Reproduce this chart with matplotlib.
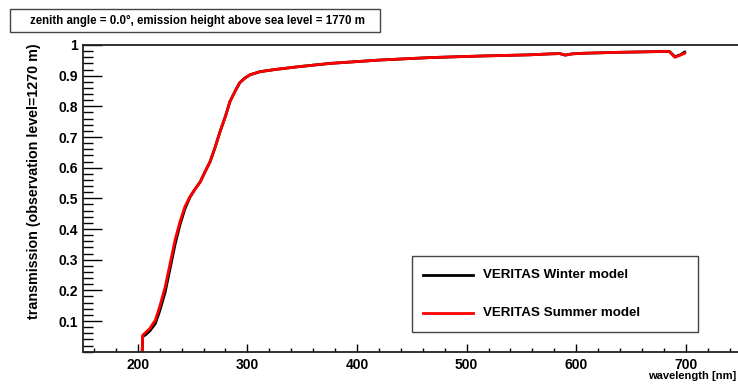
import matplotlib
matplotlib.use( "Agg" )
import matplotlib.pyplot as plt
from matplotlib.patches import Rectangle
from matplotlib.ticker import FixedLocator, MultipleLocator

# DATA
#=============================================================================================================================
wavelength = [ 204, 204.5, 207, 211, 216, 220, 225, 229.5, 234, 238.5, 243, 247.5, 252, 257, 261, 266,
               270.5, 275, 280, 284, 289, 293, 298, 302.5, 311.5, 325, 343.5, 362, 375.5, 421, 467, 512,
               558, 576, 585, 590, 596, 606, 637, 667, 685, 690, 695, 699 ]

summer = [ 0.0, 0.054, 0.062, 0.076, 0.103, 0.147, 0.212, 0.288, 0.364, 0.424, 0.473, 0.505, 0.529, 0.554,
           0.584, 0.620, 0.666, 0.717, 0.768, 0.815, 0.851, 0.877, 0.893, 0.903, 0.913, 0.920, 0.928, 0.935,
           0.940, 0.951, 0.959, 0.964, 0.968, 0.971, 0.972, 0.967, 0.971, 0.973, 0.976, 0.978, 0.979, 0.960,
           0.967, 0.973 ]

winter = [ 0.0, 0.050, 0.055, 0.068, 0.092, 0.133, 0.195, 0.272, 0.350, 0.414, 0.466, 0.503, 0.529, 0.554,
           0.584, 0.620, 0.666, 0.717, 0.768, 0.815, 0.851, 0.877, 0.893, 0.903, 0.913, 0.920, 0.928, 0.935,
           0.940, 0.951, 0.959, 0.964, 0.968, 0.971, 0.972, 0.967, 0.971, 0.973, 0.976, 0.978, 0.979, 0.962,
           0.968, 0.977 ]

title_text  = "zenith angle = 0.0°, emission height above sea level = 1770 m"
y_ticks     = [ 0.1, 0.2, 0.3, 0.4, 0.5, 0.6, 0.7, 0.8, 0.9, 1.0 ]
y_labels    = [ "0.1", "0.2", "0.3", "0.4", "0.5", "0.6", "0.7", "0.8", "0.9", "1" ]

# FIGURE (ROOT-like look)
#¨¨¨¨¨¨¨¨¨¨¨¨¨¨¨¨¨¨¨¨¨¨¨¨¨¨¨¨¨¨¨¨¨¨¨¨¨¨¨¨¨¨¨¨¨¨¨¨¨¨¨¨¨¨¨¨¨¨¨¨¨¨¨¨¨¨¨¨¨¨¨¨¨¨¨¨¨¨¨¨¨¨¨¨¨¨¨¨¨¨
plt.rcParams[ "font.family" ] = [ "Liberation Sans", "DejaVu Sans" ]
plt.rcParams[ "font.weight" ] = "bold"

W, H = 738, 387
fig = plt.figure( figsize = ( W / 100, H / 100 ), dpi = 100 )

# axes frame runs just past the right edge of the picture, like the reference
ax = fig.add_axes( [ 83 / W, 1 - 351.7 / H, 657.6 / W, 306.7 / H ] )

ax.plot( wavelength, winter, color = "black", lw = 2.0, solid_joinstyle = "round" )
ax.plot( wavelength, summer, color = "red",   lw = 2.0, solid_joinstyle = "round" )

ax.set_xlim( 150, 750 )
ax.set_ylim( 0, 1 )

ax.xaxis.set_major_locator( FixedLocator( [ 200, 300, 400, 500, 600, 700 ] ) )
ax.xaxis.set_minor_locator( MultipleLocator( 20 ) )
ax.yaxis.set_major_locator( FixedLocator( y_ticks ) )
ax.set_yticklabels( y_labels )
ax.yaxis.set_minor_locator( MultipleLocator( 0.02 ) )

ax.tick_params( axis = "both", which = "both", direction = "in", width = 1.0, color = "black" )
ax.tick_params( axis = "x", which = "major", length = 6.0, pad = 4.5, labelsize = 10 )
ax.tick_params( axis = "x", which = "minor", length = 3.2 )
ax.tick_params( axis = "y", which = "major", length = 13.5, pad = 3.5, labelsize = 10 )
ax.tick_params( axis = "y", which = "minor", length = 7.0 )
ax.tick_params( top = False, right = False, which = "both" )

for s in ax.spines.values():
    s.set_linewidth( 1.3 )
    s.set_color( "#222222" )

for lbl in ax.get_xticklabels() + ax.get_yticklabels():
    lbl.set_fontweight( "bold" )

# AXIS TITLES
fig.text( 34 / W, 1 - 43 / H, "transmission (observation level=1270 m)", rotation = 90,
          ha = "center", va = "top", fontsize = 10.3, fontweight = "bold" )
fig.text( 736 / W, 1 - 376 / H, "wavelength [nm]", ha = "right", va = "center",
          fontsize = 8, fontweight = "bold" )

# TITLE BOX
fig.patches.append( Rectangle( ( 10 / W, 1 - 32.3 / H ), 370 / W, 23 / H, transform = fig.transFigure,
                               facecolor = "white", edgecolor = "#444444", lw = 1.0 ) )
fig.text( 197 / W, 1 - 20.5 / H, title_text, ha = "center", va = "center",
          fontsize = 8.3, fontweight = "bold" )

# LEGEND BOX
fig.patches.append( Rectangle( ( 412.3 / W, 1 - 332.3 / H ), 286 / W, 76.6 / H, transform = fig.transFigure,
                               facecolor = "white", edgecolor = "#444444", lw = 1.0 ) )
fig.add_artist( plt.Line2D( [ 422.7 / W, 472.7 / W ], [ 1 - 274.7 / H ] * 2, color = "black", lw = 2.0 ) )
fig.add_artist( plt.Line2D( [ 422.7 / W, 472.7 / W ], [ 1 - 312.7 / H ] * 2, color = "red", lw = 2.0 ) )
fig.text( 483 / W, 1 - 275 / H, "VERITAS Winter model", ha = "left", va = "center",
          fontsize = 9.6, fontweight = "bold" )
fig.text( 483 / W, 1 - 313 / H, "VERITAS Summer model", ha = "left", va = "center",
          fontsize = 9.6, fontweight = "bold" )

fig.savefig( "out.png", dpi = 100 )
#=============================================================================================================================
